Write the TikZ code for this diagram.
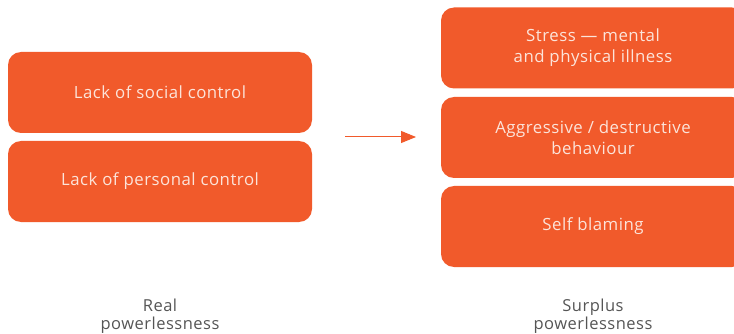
\documentclass[tikz,border=0pt]{standalone}
\usepackage{fontspec}
\usetikzlibrary{arrows.meta}
\setmainfont{Open Sans}[LetterSpace=3]
\definecolor{boxorange}{HTML}{F15A2B}
\definecolor{boxtext}{HTML}{FCE4DA}
\definecolor{labelgray}{HTML}{555555}
\tikzset{
  causebox/.style={fill=boxorange, rounded corners=13pt, minimum width=304pt, minimum height=81pt,
    inner sep=0pt, text=boxtext, align=center, font=\fontsize{16.8}{21}\selectfont},
  colname/.style={text=labelgray, align=center, font=\fontsize{16.5}{18.5}\selectfont}
}
\begin{document}
\begin{tikzpicture}[x=1pt, y=-1pt]
  \useasboundingbox (0,0) rectangle (734,334);
  \clip (0,0) rectangle (734,334);
  % left column: real powerlessness
  \node[causebox] (social) at (160,92.5) {Lack of social control};
  \node[causebox] (personal) at (160,181.5) {Lack of personal control};
  % right column: surplus powerlessness
  \node[causebox] (stress) at (593,48) {Stress --- mental\\and physical illness};
  \node[causebox] (aggr) at (593,137.5) {Aggressive / destructive\\behaviour};
  \node[causebox] (blame) at (593,226.5) {Self blaming};
  % arrow between the columns
  \coordinate (from) at (345,137);
  \coordinate (to) at (416,137);
  \draw[boxorange, line width=1pt, -{Triangle[length=15pt, width=12pt]}] (from) -- (to);
  % column captions
  \node[colname] (real) at (160,316) {Real\\powerlessness};
  \node[colname] (surplus) at (593,316) {Surplus\\powerlessness};
\end{tikzpicture}
\end{document}
